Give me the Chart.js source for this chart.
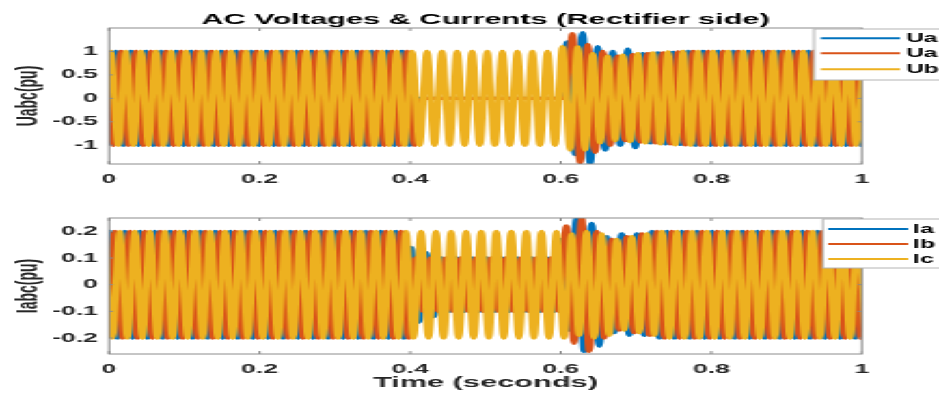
<!DOCTYPE html>
<html>
<head>
<meta charset="utf-8">
<title>AC Voltages & Currents (Rectifier side)</title>
<script src="https://cdn.jsdelivr.net/npm/chart.js@4.4.0/dist/chart.umd.min.js"></script>
<style>
  html, body { margin: 0; padding: 0; background: #fff; overflow: hidden; }
  /* the figure is laid out narrow and then widened to the page width */
  #figure {
    position: absolute; left: 0; top: 0;
    width: 458px; height: 394px;
    transform: scaleX(2.0502); transform-origin: 0 0;
  }
  .panel { position: absolute; left: 0; width: 458px; height: 197px; }
  #topPanel { top: 0; }
  #bottomPanel { top: 197px; }
</style>
</head>
<body>
<div id="figure">
  <div class="panel" id="topPanel"><canvas id="voltChart"></canvas></div>
  <div class="panel" id="bottomPanel"><canvas id="currChart"></canvas></div>
</div>
<script>
// ========== DATA ==========
const FREQ = 50; // grid frequency, Hz (one entry per cycle below)

const timeTicks = [0, 0.2, 0.4, 0.6, 0.8, 1];
const voltTicks = [-1, -0.5, 0, 0.5, 1];
const currTicks = [-0.2, -0.1, 0, 0.1, 0.2];

const voltLabels = ["Ua", "Ua", "Ub"];
const currLabels = ["Ia", "Ib", "Ic"];

// peak voltage of each cycle (pu), 0 - 1 s
const uaPeaks = [
  1, 1, 1, 1, 1, 1, 1, 1, 1, 1,
  1, 1, 1, 1, 1, 1, 1, 1, 1, 1,
  0, 0, 0, 0, 0, 0, 0, 0, 0, 0,
  1.2, 1.4, 1.1, 1.0, 1.05, 0.95, 0.97, 0.98, 1, 1,
  1, 1, 1, 1, 1, 1, 1, 1, 1, 1
];
const ubPeaks = [
  1, 1, 1, 1, 1, 1, 1, 1, 1, 1,
  1, 1, 1, 1, 1, 1, 1, 1, 1, 1,
  0, 0, 0, 0, 0, 0, 0, 0, 0, 0,
  1.38, 1.15, 1.0, 0.9, 0.93, 0.95, 0.97, 0.99, 1, 1,
  1, 1, 1, 1, 1, 1, 1, 1, 1, 1
];
const ucPeaks = [
  1, 1, 1, 1, 1, 1, 1, 1, 1, 1,
  1, 1, 1, 1, 1, 1, 1, 1, 1, 1,
  1, 1, 1, 1, 1, 1, 1, 1, 1, 1,
  1.1, 1.1, 0.95, 0.9, 0.92, 0.95, 0.97, 0.99, 1, 1,
  1, 1, 1, 1, 1, 1, 1, 1, 1, 1
];

// peak current of each cycle (pu), 0 - 1 s
const iaPeaks = [
  0.2, 0.2, 0.2, 0.2, 0.2, 0.2, 0.2, 0.2, 0.2, 0.2,
  0.2, 0.2, 0.2, 0.2, 0.2, 0.2, 0.2, 0.2, 0.2, 0.2,
  0.14, 0.12, 0.1, 0.1, 0.1, 0.1, 0.1, 0.1, 0.1, 0.1,
  0.17, 0.25, 0.23, 0.18, 0.19, 0.19, 0.2, 0.2, 0.2, 0.2,
  0.2, 0.2, 0.2, 0.2, 0.2, 0.2, 0.2, 0.2, 0.2, 0.2
];
const ibPeaks = [
  0.2, 0.2, 0.2, 0.2, 0.2, 0.2, 0.2, 0.2, 0.2, 0.2,
  0.2, 0.2, 0.2, 0.2, 0.2, 0.2, 0.2, 0.2, 0.2, 0.2,
  0.1, 0.1, 0.1, 0.1, 0.1, 0.1, 0.1, 0.1, 0.1, 0.1,
  0.22, 0.25, 0.2, 0.17, 0.18, 0.19, 0.2, 0.2, 0.2, 0.2,
  0.2, 0.2, 0.2, 0.2, 0.2, 0.2, 0.2, 0.2, 0.2, 0.2
];
const icPeaks = [
  0.2, 0.2, 0.2, 0.2, 0.2, 0.2, 0.2, 0.2, 0.2, 0.2,
  0.2, 0.2, 0.2, 0.2, 0.2, 0.2, 0.2, 0.2, 0.2, 0.2,
  0.2, 0.2, 0.2, 0.2, 0.2, 0.2, 0.2, 0.2, 0.2, 0.2,
  0.19, 0.2, 0.19, 0.17, 0.18, 0.19, 0.2, 0.2, 0.2, 0.2,
  0.2, 0.2, 0.2, 0.2, 0.2, 0.2, 0.2, 0.2, 0.2, 0.2
];

// where in the cycle each phase reaches its positive peak (fraction of a period)
const voltPhase = [0.45, 0.783, 0.117];
const currPhase = [0.05, 0.383, 0.717];

// ========== STYLE ==========
const phaseColors = ["#0072BD", "#D95319", "#EDB120"];
const FONT = "'Liberation Sans', Arial, Helvetica, sans-serif";
const TEXT = "#262626";
Chart.defaults.font.family = FONT;
Chart.defaults.color = TEXT;

// alternating positive / negative peaks of one phase
function peakPoints(peaks, phase) {
  const T = 1 / FREQ;
  const pts = [];
  for (let k = -1; k <= peaks.length; k++) {
    const a = peaks[Math.min(Math.max(k, 0), peaks.length - 1)];
    pts.push({ x: (k + phase) * T, y: a });
    pts.push({ x: (k + phase + 0.5) * T, y: -a });
  }
  return pts;
}

// ========== FRAME, TITLE AND LEGEND ==========
const matlabFrame = {
  id: "matlabFrame",
  afterDraw(chart, args, opts) {
    const { ctx, chartArea: a, scales } = chart;
    ctx.save();

    // axes box
    ctx.strokeStyle = "#8c8c8c";
    ctx.lineWidth = 1;
    ctx.strokeRect(a.left, a.top, a.right - a.left, a.bottom - a.top);

    // small inward tick marks
    ctx.beginPath();
    timeTicks.forEach((t) => {
      const px = scales.x.getPixelForValue(t);
      ctx.moveTo(px, a.top); ctx.lineTo(px, a.top + 3);
      ctx.moveTo(px, a.bottom); ctx.lineTo(px, a.bottom - 3);
    });
    opts.yTicks.forEach((v) => {
      const py = scales.y.getPixelForValue(v);
      ctx.moveTo(a.left, py); ctx.lineTo(a.left + 2, py);
      ctx.moveTo(a.right, py); ctx.lineTo(a.right - 2, py);
    });
    ctx.stroke();

    // title
    if (opts.title) {
      ctx.fillStyle = "#000";
      ctx.font = "bold 15px " + FONT;
      ctx.textAlign = "center";
      ctx.textBaseline = "middle";
      ctx.fillText(opts.title, (a.left + a.right) / 2, 20);
    }

    // legend box (runs off the right edge)
    const lg = opts.legend;
    ctx.fillStyle = "#fff";
    ctx.fillRect(lg.x, lg.y, 200, lg.h);
    ctx.strokeStyle = "#b4b4b4";
    ctx.strokeRect(lg.x, lg.y, 200, lg.h);
    ctx.font = "bold 12px " + FONT;
    ctx.textAlign = "left";
    ctx.textBaseline = "middle";
    chart.data.datasets.forEach((ds, i) => {
      const y = lg.rows[i];
      ctx.strokeStyle = ds.borderColor;
      ctx.lineWidth = 2;
      ctx.beginPath();
      ctx.moveTo(lg.lineFrom, y);
      ctx.lineTo(lg.lineTo, y);
      ctx.stroke();
      ctx.fillStyle = "#000";
      ctx.fillText(ds.label, lg.textX, y + 0.5);
    });

    ctx.restore();
  },
};

function buildChart(canvasId, cfg) {
  const datasets = cfg.peaks.map((p, i) => ({
    label: cfg.labels[i],
    data: peakPoints(p, cfg.phases[i]),
    borderColor: phaseColors[i],
    borderWidth: 3.4,
    pointRadius: 0,
    cubicInterpolationMode: "monotone",
    order: 3 - i, // last phase drawn on top
  }));

  return new Chart(document.getElementById(canvasId), {
    type: "line",
    data: { datasets },
    options: {
      responsive: true,
      maintainAspectRatio: false,
      animation: false,
      events: [],
      layout: { padding: { top: cfg.padTop, right: 37.6, left: 0, bottom: 0 } },
      plugins: {
        legend: { display: false },
        tooltip: { enabled: false },
        matlabFrame: {
          title: cfg.title,
          yTicks: cfg.yTicks,
          legend: cfg.legend,
        },
      },
      scales: {
        x: {
          type: "linear",
          min: 0,
          max: 1,
          afterBuildTicks: (s) => { s.ticks = timeTicks.map((v) => ({ value: v })); },
          afterFit: (s) => { s.height = cfg.xHeight; },
          grid: { display: false, drawTicks: false },
          border: { display: false },
          ticks: {
            padding: 8,
            maxRotation: 0,
            font: { size: 13, weight: "bold" },
            callback: (v) => String(v),
          },
          title: {
            display: !!cfg.xTitle,
            text: cfg.xTitle || "",
            font: { size: 15, weight: "bold" },
            color: TEXT,
            padding: { top: 0, bottom: 2 },
          },
        },
        y: {
          min: cfg.yMin,
          max: cfg.yMax,
          afterBuildTicks: (s) => { s.ticks = cfg.yTicks.map((v) => ({ value: v })); },
          afterFit: (s) => { s.width = 53.2; },
          grid: { display: false, drawTicks: false },
          border: { display: false },
          ticks: {
            padding: 5.4,
            font: { size: 13, weight: "bold" },
            callback: (v) => String(v),
          },
          title: {
            display: true,
            text: cfg.yTitle,
            font: { size: 14, weight: "bold" },
            color: TEXT,
            padding: { top: 6, bottom: 0 },
          },
        },
      },
    },
    plugins: [matlabFrame],
  });
}

// ========== VOLTAGES ==========
buildChart("voltChart", {
  peaks: [uaPeaks, ubPeaks, ucPeaks],
  phases: voltPhase,
  labels: voltLabels,
  yTicks: voltTicks,
  yMin: -1.4,
  yMax: 1.5,
  yTitle: "Uabc(pu)",
  title: "AC Voltages & Currents (Rectifier side)",
  padTop: 28,
  xHeight: 33,
  legend: { x: 397, y: 29, h: 51, rows: [38.3, 53.3, 69.3], lineFrom: 400.4, lineTo: 439, textX: 441.9 },
});

// ========== CURRENTS ==========
buildChart("currChart", {
  peaks: [iaPeaks, ibPeaks, icPeaks],
  phases: currPhase,
  labels: currLabels,
  yTicks: currTicks,
  yMin: -0.26,
  yMax: 0.25,
  yTitle: "Iabc(pu)",
  xTitle: "Time (seconds)",
  padTop: 21,
  xHeight: 40,
  legend: { x: 401.4, y: 22, h: 49, rows: [32, 47, 62], lineFrom: 403.9, lineTo: 442.9, textX: 445.3 },
});
</script>
</body>
</html>
